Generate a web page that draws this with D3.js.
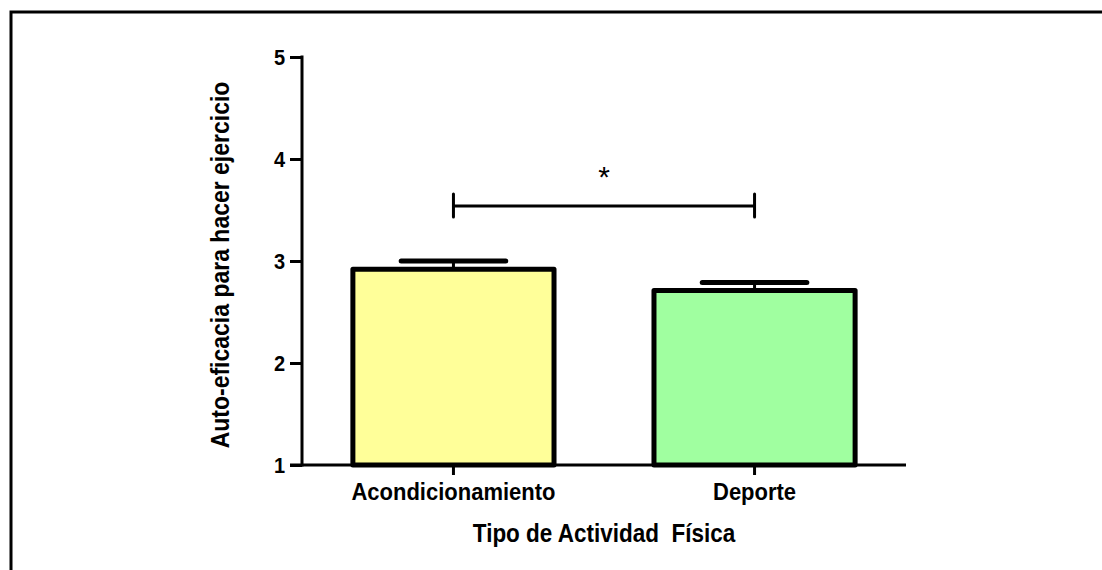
<!DOCTYPE html>
<html>
<head>
<meta charset="utf-8">
<script src="https://cdn.jsdelivr.net/npm/d3@7"></script>
<style>
  html, body { margin: 0; padding: 0; background: #ffffff; }
  svg { display: block; }
  text { font-family: "Liberation Sans", Arial, sans-serif; font-weight: bold; fill: #000; }
</style>
</head>
<body>
<svg id="chart" width="1102" height="570"></svg>
<script>
// Activity types and mean self-efficacy scores (with SEM)
const categories = ["Acondicionamiento", "Deporte"];
const means = [2.92, 2.71];
const sem = [0.08, 0.08];
const barColors = ["#FFFF99", "#A0FFA0"];
const yTicks = [1, 2, 3, 4, 5];
const yDomain = [1, 5];
const significance = { from: "Acondicionamiento", to: "Deporte", level: 3.54, label: "*" };
const xTitle = "Tipo de Actividad  Física";
const yTitle = "Auto-eficacia para hacer ejercicio";

const svg = d3.select("#chart");
const stretch = 1.12; // slightly tall lettering

// Outer frame
svg.append("rect")
  .attr("x", 11).attr("y", 12)
  .attr("width", 1120).attr("height", 600)
  .attr("fill", "none").attr("stroke", "#000").attr("stroke-width", 3);

const plot = { left: 302, right: 906, top: 57, bottom: 465 };

const x = d3.scaleBand()
  .domain(categories)
  .range([plot.left, plot.right])
  .paddingInner(0.332)
  .paddingOuter(0.169);

const y = d3.scaleLinear().domain(yDomain).range([plot.bottom, plot.top]);

// Bars
const bars = svg.append("g");
bars.selectAll("rect")
  .data(categories)
  .join("rect")
  .attr("x", d => x(d))
  .attr("width", x.bandwidth())
  .attr("y", (d, i) => y(means[i]))
  .attr("height", (d, i) => y(yDomain[0]) - y(means[i]))
  .attr("fill", (d, i) => barColors[i])
  .attr("stroke", "#000")
  .attr("stroke-width", 5)
  .attr("stroke-linejoin", "round");

// Error bars (upper SEM only)
const capHalf = x.bandwidth() * 0.26;
const err = svg.append("g").attr("stroke", "#000").attr("stroke-linecap", "round");
categories.forEach((c, i) => {
  const cx = x(c) + x.bandwidth() / 2;
  err.append("line")
    .attr("x1", cx).attr("x2", cx)
    .attr("y1", y(means[i])).attr("y2", y(means[i] + sem[i]))
    .attr("stroke-width", 3);
  err.append("line")
    .attr("x1", cx - capHalf).attr("x2", cx + capHalf)
    .attr("y1", y(means[i] + sem[i])).attr("y2", y(means[i] + sem[i]))
    .attr("stroke-width", 5);
});

// Y axis
const yAxis = svg.append("g")
  .attr("transform", `translate(${plot.left},0)`)
  .call(d3.axisLeft(y).tickValues(yTicks).tickFormat(d3.format("d")).tickSize(12).tickPadding(5));
yAxis.select(".domain").remove();
yAxis.append("line")
  .attr("x1", 0).attr("x2", 0)
  .attr("y1", y(yDomain[1]) - 1.5).attr("y2", y(yDomain[0]) + 1.5)
  .attr("stroke", "#000").attr("stroke-width", 3);
yAxis.selectAll(".tick line").attr("stroke", "#000").attr("stroke-width", 3);
yAxis.selectAll(".tick text")
  .style("font-size", "20px").style("font-weight", "bold")
  .style("font-family", "'Liberation Sans', Arial, sans-serif")
  .attr("fill", "#000")
  .attr("dy", null)
  .attr("y", 7 / stretch)
  .attr("transform", `scale(1,${stretch})`);

// X axis
const xAxis = svg.append("g")
  .attr("transform", `translate(0,${plot.bottom})`)
  .call(d3.axisBottom(x).tickSize(10).tickPadding(10));
xAxis.select(".domain").remove();
xAxis.append("line")
  .attr("x1", plot.left - 12).attr("x2", plot.right)
  .attr("y1", 0).attr("y2", 0)
  .attr("stroke", "#000").attr("stroke-width", 3);
xAxis.selectAll(".tick line").attr("stroke", "#000").attr("stroke-width", 3);
xAxis.selectAll(".tick text")
  .style("font-size", "22px").style("font-weight", "bold")
  .style("font-family", "'Liberation Sans', Arial, sans-serif")
  .attr("fill", "#000")
  .attr("dy", null)
  .attr("y", 35 / stretch)
  .attr("transform", `scale(1,${stretch})`);

// Axis titles
svg.append("text")
  .attr("transform", `translate(${(plot.left + plot.right) / 2},542) scale(1,${stretch})`)
  .attr("text-anchor", "middle")
  .style("font-size", "22.5px")
  .style("white-space", "pre")
  .attr("xml:space", "preserve")
  .text(xTitle);

svg.append("text")
  .attr("transform", `translate(229,${(plot.top + plot.bottom) / 2 + 4}) rotate(-90) scale(1,${stretch})`)
  .attr("text-anchor", "middle")
  .style("font-size", "23px")
  .text(yTitle);

// Significance bracket
const sx1 = x(significance.from) + x.bandwidth() / 2;
const sx2 = x(significance.to) + x.bandwidth() / 2;
const sy = y(significance.level);
const br = svg.append("g").attr("stroke", "#000").attr("stroke-width", 3).attr("stroke-linecap", "round");
br.append("line").attr("x1", sx1).attr("x2", sx2).attr("y1", sy).attr("y2", sy);
br.append("line").attr("x1", sx1).attr("x2", sx1).attr("y1", sy - 12).attr("y2", sy + 11);
br.append("line").attr("x1", sx2).attr("x2", sx2).attr("y1", sy - 12).attr("y2", sy + 11);
svg.append("text")
  .attr("x", (sx1 + sx2) / 2)
  .attr("y", sy - 19)
  .attr("text-anchor", "middle")
  .style("font-size", "30px")
  .style("font-weight", "normal")
  .text(significance.label);
</script>
</body>
</html>
